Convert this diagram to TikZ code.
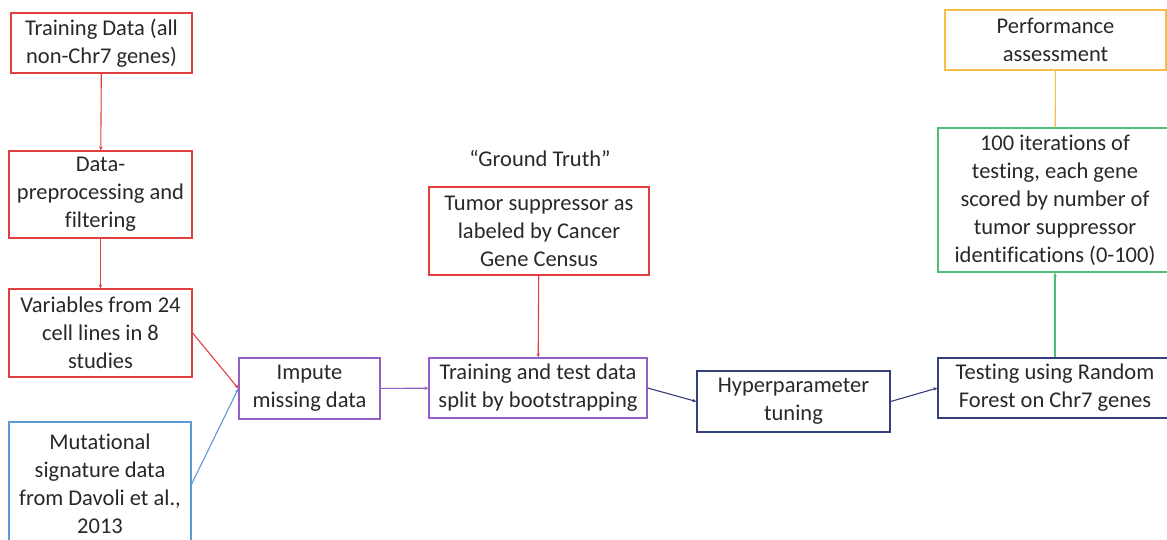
\documentclass[tikz,border=0pt]{standalone}
\usepackage{fontspec}
\setmainfont{Carlito}[RawFeature={-liga;-clig;-calt;-dlig}]
\usetikzlibrary{arrows.meta}
\definecolor{cred}{RGB}{226,64,64}
\definecolor{cblue}{RGB}{91,155,213}
\definecolor{cpurple}{RGB}{146,96,200}
\definecolor{cnavy}{RGB}{52,62,120}
\definecolor{cgreen}{RGB}{80,190,115}
\definecolor{cgold}{RGB}{242,192,70}
\definecolor{ctext}{RGB}{40,40,40}
\tikzset{
  box/.style={draw=#1, line width=1.3pt, rectangle, inner sep=0pt, align=center,
    text=ctext, font=\fontsize{22.5}{28}\selectfont},
  conn/.style={draw=#1, line width=1.1pt, -{Stealth[length=4pt,width=3.5pt]}},
  plain/.style={draw=#1, line width=1.1pt},
}
\begin{document}
\begin{tikzpicture}[x=1pt,y=-1pt]
\useasboundingbox (0,0) rectangle (1167,539);
\node[box=cred, minimum width=181pt, minimum height=60pt] (tdata) at (101.5,43) {Training Data (all\\non-Chr7 genes)};
\node[box=cred, minimum width=183pt, minimum height=87pt] (prep) at (100.5,194.5) {Data-\\preprocessing and\\filtering};
\node[box=cred, minimum width=183pt, minimum height=88pt] (vars) at (100.5,333) {Variables from 24\\cell lines in 8\\studies};
\node[box=cblue, minimum width=182pt, minimum height=124pt] (mut) at (100,484) {Mutational\\signature data\\from Davoli et al.,\\2013};
\node[box=cpurple, minimum width=141pt, minimum height=61pt] (imp) at (309.5,388.5) {Impute\\missing data};
\node[box=cpurple, minimum width=218pt, minimum height=60pt] (split) at (538,388) {Training and test data\\split by bootstrapping};
\node[box=cred, minimum width=220pt, minimum height=88pt] (tumor) at (539,231) {Tumor suppressor as\\labeled by Cancer\\Gene Census};
\node[text=ctext, font=\fontsize{22.5}{28}\selectfont, inner sep=0pt] (gt) at (540,158) {“Ground Truth”};
\node[box=cnavy, minimum width=193pt, minimum height=61pt] (hyper) at (793.5,401.5) {Hyperparameter\\tuning};
\node[box=cnavy, minimum width=234pt, minimum height=60pt] (test) at (1055,388) {Testing using Random\\Forest on Chr7 genes};
\node[box=cgreen, minimum width=234pt, minimum height=144pt] (iter) at (1055,200) {100 iterations of\\testing, each gene\\scored by number of\\tumor suppressor\\identifications (0-100)};
\node[box=cgold, minimum width=221pt, minimum height=60pt] (perf) at (1055.5,40) {Performance\\assessment};

\draw[conn=cred] (tdata) -- (prep);
\draw[conn=cred] (prep) -- (vars);
\draw[conn=cred] (vars.east) -- (imp.west);
\draw[conn=cblue] (mut.east) -- (imp.west);
\draw[conn=cpurple] (imp) -- (split);
\draw[conn=cred] (tumor) -- (split);
\draw[conn=cnavy] (split.east) -- (hyper.west);
\draw[conn=cnavy] (hyper.east) -- (test.west);
\draw[conn=cgreen] (test) -- (iter);
\draw[plain=cgold] (perf) -- (iter);
\end{tikzpicture}
\end{document}
